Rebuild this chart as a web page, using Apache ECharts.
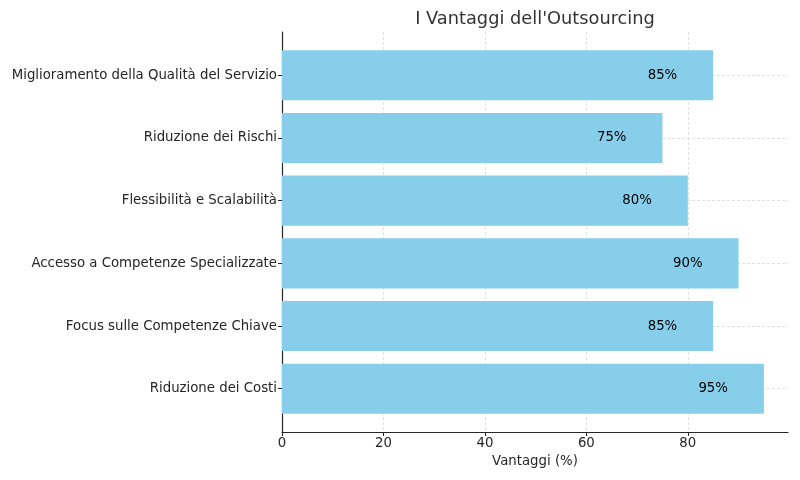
<!DOCTYPE html>
<html>
<head>
<meta charset="utf-8">
<script src="https://cdn.jsdelivr.net/npm/echarts@6/dist/echarts.min.js"></script>
<style>html,body{margin:0;padding:0;background:#fff}#c{width:800px;height:480px}</style>
</head>
<body>
<div id="c"></div>
<script>
const categories = ['Riduzione dei Costi', 'Focus sulle Competenze Chiave', 'Accesso a Competenze Specializzate', 'Flessibilità e Scalabilità', 'Riduzione dei Rischi', 'Miglioramento della Qualità del Servizio'];
const values = [95, 85, 90, 80, 75, 85];
const xTicks = [0, 20, 40, 60, 80];
const catIndex = [0, 1, 2, 3, 4, 5];

const font = 'DejaVu Sans';
const fs = 13.3;
const chart = echarts.init(document.getElementById('c'));
chart.setOption({
  animation: false,
  title: {
    text: "I Vantaggi dell'Outsourcing",
    left: 530, top: 5, textAlign: 'center',
    textStyle: { fontFamily: font, fontSize: 17.8, fontWeight: 'normal', color: '#333' }
  },
  grid: { left: 282, right: 12, top: 32, bottom: 48 },
  xAxis: {
    type: 'value', min: 0, max: 99.75,
    name: 'Vantaggi (%)', nameLocation: 'middle', nameGap: 22,
    nameTextStyle: { fontFamily: font, fontSize: fs, color: '#262626' },
    axisLine: { show: true, onZero: false, lineStyle: { color: '#262626', width: 1.2 } },
    axisTick: { show: true, customValues: xTicks, length: 4, lineStyle: { color: '#262626' } },
    axisLabel: { customValues: xTicks, fontFamily: font, fontSize: fs, color: '#262626', margin: 5 },
    splitLine: { show: true, lineStyle: { color: '#d8d8d8', width: 0.8, type: [3, 2] } }
  },
  yAxis: {
    type: 'value', min: -0.69, max: 5.69,
    axisLine: { show: true, onZero: false, lineStyle: { color: '#262626', width: 1.2 } },
    axisTick: { show: true, customValues: catIndex, length: 4, lineStyle: { color: '#262626' } },
    axisLabel: {
      customValues: catIndex, fontFamily: font, fontSize: fs, color: '#262626', margin: 5,
      formatter: v => categories[Math.round(v)]
    },
    splitLine: { show: true, lineStyle: { color: '#d8d8d8', width: 0.8, type: [3, 2] } }
  },
  series: [{
    type: 'custom',
    data: values.map((v, i) => [v, i]),
    encode: { x: 0, y: 1 },
    renderItem: function (params, api) {
      const x = api.value(0), y = api.value(1);
      const p0 = api.coord([0, y]);
      const p1 = api.coord([x, y]);
      const h = Math.abs(api.size([0, 0.8])[1]);
      const pl = api.coord([x - 10, y]);
      return {
        type: 'group',
        children: [
          { type: 'rect', shape: { x: p0[0], y: p0[1] - h / 2, width: p1[0] - p0[0], height: h },
            style: { fill: '#87CEEB' } },
          { type: 'text', x: pl[0], y: pl[1],
            style: { text: x + '%', fill: '#000', font: fs + 'px "DejaVu Sans"', align: 'center', verticalAlign: 'middle' } }
        ]
      };
    }
  }]
});
</script>
</body>
</html>
